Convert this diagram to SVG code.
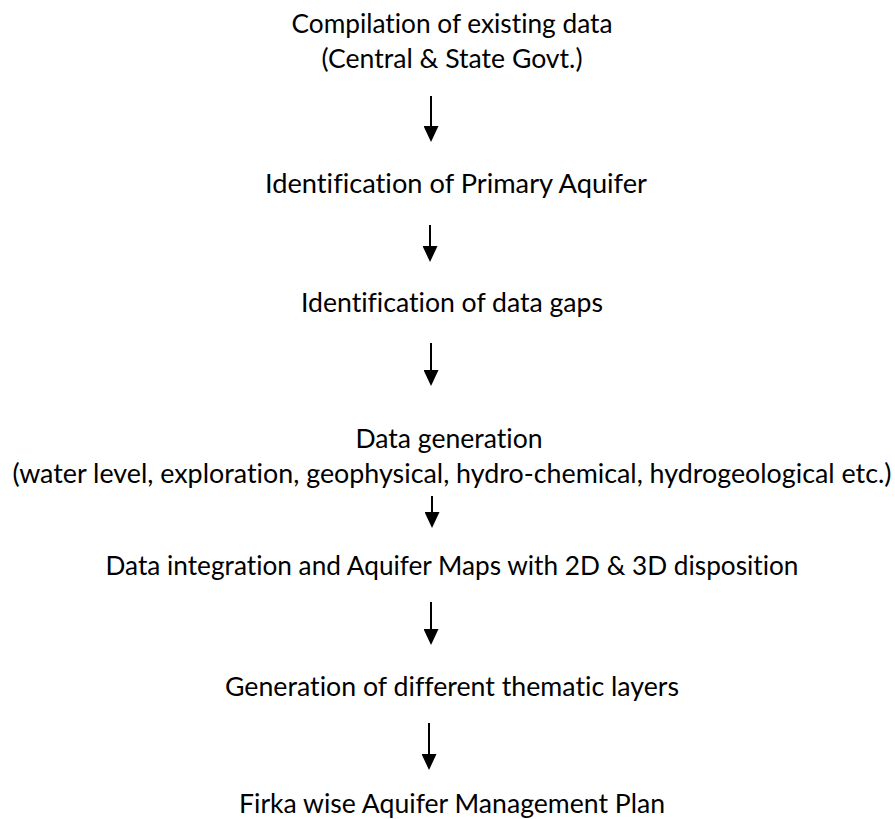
<svg xmlns="http://www.w3.org/2000/svg" width="895" height="819" viewBox="0 0 895 819">
<style>
text{font-family:Lato,"Open Sans","Liberation Sans",sans-serif;font-size:26.5px;fill:#000;text-anchor:middle;font-variant-ligatures:none}
.c line{stroke:#000;stroke-width:2}
</style>
<defs>
<marker id="ah" viewBox="0 0 16 15" markerWidth="16" markerHeight="15" refX="0" refY="7.5" orient="auto" markerUnits="userSpaceOnUse">
<path d="M0,0 L16,7.5 L0,15 z" fill="#000"/>
</marker>
</defs>
<rect width="895" height="819" fill="#fff"/>
<g id="n1"><text x="452" y="33" textLength="321" lengthAdjust="spacingAndGlyphs">Compilation of existing data</text><text x="452" y="68" textLength="261" lengthAdjust="spacingAndGlyphs">(Central &amp; State Govt.)</text></g>
<g id="n2"><text x="456" y="193" textLength="382" lengthAdjust="spacingAndGlyphs">Identification of Primary Aquifer</text></g>
<g id="n3"><text x="452" y="312" textLength="302" lengthAdjust="spacingAndGlyphs">Identification of data gaps</text></g>
<g id="n4"><text x="449" y="448" textLength="187" lengthAdjust="spacingAndGlyphs">Data generation</text><text x="452" y="483" textLength="879" lengthAdjust="spacingAndGlyphs">(water level, exploration, geophysical, hydro-chemical, hydrogeological etc.)</text></g>
<g id="n5"><text x="452" y="575" textLength="693" lengthAdjust="spacingAndGlyphs">Data integration and Aquifer Maps with 2D &amp; 3D disposition</text></g>
<g id="n6"><text x="452" y="696" textLength="454" lengthAdjust="spacingAndGlyphs">Generation of different thematic layers</text></g>
<g id="n7"><text x="452" y="813" textLength="426" lengthAdjust="spacingAndGlyphs">Firka wise Aquifer Management Plan</text></g>
<g id="connectors" class="c">
<line x1="431" y1="96" x2="431" y2="126" marker-end="url(#ah)"/>
<line x1="430" y1="225" x2="430" y2="246" marker-end="url(#ah)"/>
<line x1="431" y1="343" x2="431" y2="370" marker-end="url(#ah)"/>
<line x1="432" y1="496" x2="432" y2="512" marker-end="url(#ah)"/>
<line x1="431" y1="602" x2="431" y2="629" marker-end="url(#ah)"/>
<line x1="429" y1="723" x2="429" y2="754" marker-end="url(#ah)"/>
</g>
</svg>
